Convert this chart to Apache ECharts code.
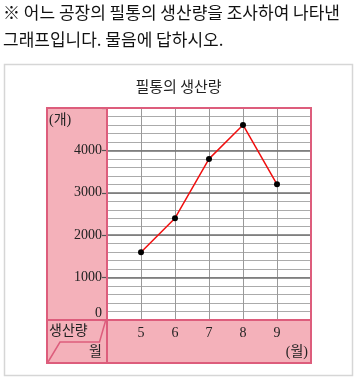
<!DOCTYPE html>
<html><head><meta charset="utf-8">
<script src="https://cdn.jsdelivr.net/npm/echarts@6/dist/echarts.min.js"></script>
<style>html,body{margin:0;padding:0;background:#fff}#c{width:357px;height:378px}</style>
</head><body><div id="c"></div>
<script>
const months = [5, 6, 7, 8, 9];
const production = [1600, 2400, 3800, 4600, 3200];
const yMajorTicks = [0, 1000, 2000, 3000, 4000];
const headerLines = ['※ 어느 공장의 필통의 생산량을 조사하여 나타낸', '그래프입니다. 물음에 답하시오.'];
const titleText = '필통의 생산량';
const yUnit = '(개)';
const xUnit = '(월)';
const rowLabelTop = '생산량';
const rowLabelBottom = '월';

const G = {left: 107, top: 108, width: 204, height: 212};
const P = {left: 47, top: 108, right: 311, bottom: 363};
const pinkFill = '#f4b1ba';
const pinkLine = '#dd5d7c';
const serif = "'Liberation Serif', 'Noto Sans CJK KR', serif";
const sans = "'Noto Sans CJK KR', sans-serif";

const chart = echarts.init(document.getElementById('c'), null, {renderer: 'canvas'});
chart.setOption({
  animation: false,
  backgroundColor: '#fff',
  title: {
    text: titleText, left: 'center', top: 74,
    textStyle: {fontFamily: sans, fontSize: 15, fontWeight: 'normal', color: '#222'}
  },
  grid: {left: G.left, top: G.top, width: G.width, height: G.height, show: true, backgroundColor: '#fff', borderWidth: 0},
  xAxis: {
    type: 'value', min: 4, max: 10, interval: 1,
    axisLine: {show: false}, axisTick: {show: false},
    splitLine: {show: true, lineStyle: {color: '#9a9a9a', width: 1}},
    axisLabel: {
      margin: 6, fontFamily: serif, fontSize: 14, color: '#222',
      formatter: v => months.indexOf(v) >= 0 ? String(v) : ''
    }
  },
  yAxis: [
    {
      type: 'value', min: 0, max: 5000, interval: 1000, z: 1,
      axisLine: {show: false},
      axisTick: {show: true, length: 5, lineStyle: {color: '#555', width: 1.2}},
      splitLine: {show: true, lineStyle: {color: '#707070', width: 1.5}},
      axisLabel: {
        margin: 5, fontFamily: serif, fontSize: 14, color: '#222',
        formatter: v => v === 0 ? '{z|0}' : (yMajorTicks.indexOf(v) >= 0 ? String(v) : ''),
        rich: {z: {fontFamily: serif, fontSize: 14, color: '#222', padding: [0, 0, 14, 0]}}
      }
    },
    {
      type: 'value', min: 0, max: 5000, interval: 200, z: 0,
      axisLine: {show: false}, axisTick: {show: false}, axisLabel: {show: false},
      splitLine: {show: true, lineStyle: {color: '#ababab', width: 1}}
    }
  ],
  series: [{
    type: 'line', yAxisIndex: 0, z: 5,
    data: months.map((m, i) => [m, production[i]]),
    lineStyle: {color: '#f01010', width: 1.5},
    symbol: 'circle', symbolSize: 6,
    itemStyle: {color: '#000'}
  }],
  graphic: [
    {type: 'rect', z: -10, shape: {x: 4.5, y: 64.5, width: 348, height: 311}, style: {fill: '#fff', stroke: '#d6d6d6', lineWidth: 1.5}},
    {type: 'rect', z: -5, shape: {x: P.left, y: P.top, width: P.right - P.left, height: P.bottom - P.top}, style: {fill: pinkFill}},
    {type: 'rect', z: 50, shape: {x: P.left, y: P.top, width: P.right - P.left, height: P.bottom - P.top}, style: {fill: 'none', stroke: pinkLine, lineWidth: 2}},
    {type: 'line', z: 50, shape: {x1: G.left, y1: P.top, x2: G.left, y2: P.bottom}, style: {stroke: pinkLine, lineWidth: 2}},
    {type: 'line', z: 50, shape: {x1: P.left, y1: G.top + G.height, x2: P.right, y2: G.top + G.height}, style: {stroke: pinkLine, lineWidth: 2}},
    {type: 'polyline', z: 50, shape: {points: [[105.5, 321], [99.5, 342], [60, 342], [48, 362]]}, style: {fill: 'none', stroke: pinkLine, lineWidth: 1.5}},
    {type: 'text', z: 60, x: 3, y: 13, style: {text: headerLines[0], fontFamily: sans, fontSize: 17, letterSpacing: 1.8, fill: '#111', verticalAlign: 'middle'}},
    {type: 'text', z: 60, x: 3, y: 40, style: {text: headerLines[1], fontFamily: sans, fontSize: 17, letterSpacing: 1.8, fill: '#111', verticalAlign: 'middle'}},
    {type: 'text', z: 60, x: 49, y: 120, style: {text: yUnit, fontFamily: serif, fontSize: 14, fill: '#222', verticalAlign: 'middle'}},
    {type: 'text', z: 60, x: 49, y: 331, style: {text: rowLabelTop, fontFamily: serif, fontSize: 14, fill: '#222', verticalAlign: 'middle'}},
    {type: 'text', z: 60, x: 102, y: 352, style: {text: rowLabelBottom, fontFamily: serif, fontSize: 14, fill: '#222', verticalAlign: 'middle', align: 'right'}},
    {type: 'text', z: 60, x: 308, y: 352, style: {text: xUnit, fontFamily: serif, fontSize: 14, fill: '#222', verticalAlign: 'middle', align: 'right'}}
  ]
});
</script></body></html>
